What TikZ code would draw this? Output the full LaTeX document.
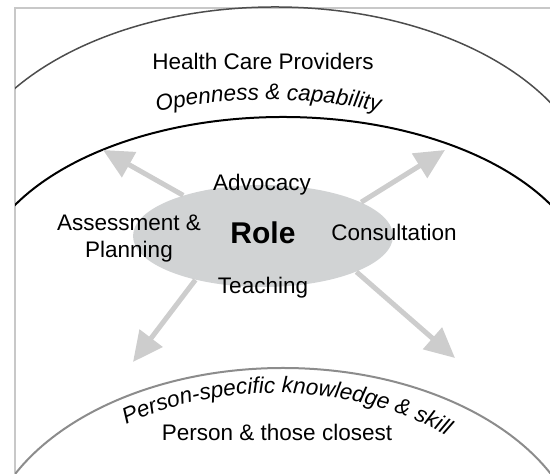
\documentclass[tikz,border=0pt]{standalone}
\usepackage{fontspec}
\setmainfont{Liberation Sans}
\usetikzlibrary{arrows.meta,shapes.geometric,decorations.text}

\definecolor{framegray}{HTML}{C8C8C8}
\definecolor{outergray}{HTML}{4D4D4D}
\definecolor{innergray}{HTML}{8C8C8C}
\definecolor{rolegray}{HTML}{D1D3D4}
\definecolor{arrowgray}{HTML}{CDCDCD}

\newcommand{\txtsize}{\fontsize{11.25}{13.5}\selectfont}
\newcommand{\ringfont}{\fontsize{11.25}{13.5}\selectfont\itshape}

\begin{document}
\begin{tikzpicture}[x=0.5pt,y=0.5pt]
	\tikzset{
		lbl/.style={font=\txtsize, inner sep=0pt, anchor=base},
		ring/.style={line width=1pt},
		rolearrow/.style={line width=2.5pt, draw=arrowgray, -{Triangle[length=15pt,width=14pt]}}
	}
	\useasboundingbox (0,0) rectangle (550,474);
	
	% frame
	\draw[line width=1pt, framegray] (15,0) -- (15,466) -- (550,466);
	
	% upper halves of the rings, cut off by the frame
	\begin{scope}
		\clip (15,0) rectangle (550,474);
		\draw[ring, line width=0.75pt, outergray] (-45,272) arc[start angle=180, end angle=0, x radius=320, y radius=195];
		\draw[ring, black] (-24,185) arc[start angle=180, end angle=0, x radius=307, y radius=172];
		\draw[ring, innergray] (-17,-87) arc[start angle=180, end angle=0, x radius=300, y radius=193];
	\end{scope}
	
	% role in the middle
	\node[ellipse, fill=rolegray, minimum width=130pt, minimum height=51pt, inner sep=0pt,
		font=\bfseries\fontsize{15}{18}\selectfont, text depth=3.7pt] (role) at (263,238) {Role};
	
	\coordinate (nw) at (103,324);
	\coordinate (ne) at (445,324);
	\coordinate (sw) at (133,112);
	\coordinate (se) at (455,116);
	\draw[rolearrow] (role.153) -- (nw);
	\draw[rolearrow] (role.19) -- (ne);
	\draw[rolearrow] (role.213) -- (sw);
	\draw[rolearrow] (role.339) -- (se);
	
	\node[lbl] (hcp) at (263,404) {Health Care Providers};
	\node[lbl] (adv) at (262,283) {Advocacy};
	\node[lbl, anchor=center, align=center] (assess) at (129,235) {Assessment \&\\Planning};
	\node[lbl] (consult) at (394,233) {Consultation};
	\node[lbl] (teach) at (263,180) {Teaching};
	\node[lbl] (person) at (277,33) {Person \& those closest};
	
	% curved labels
	\path[decorate, decoration={text along path, text align=left,
		text={|\ringfont|Openness {\&} capability}}]
		(268,185) ++(110:324 and 189) arc[start angle=110, end angle=50, x radius=324, y radius=189];
	\path[decorate, decoration={text along path, text align=left,
		text={|\ringfont|Person-specific knowledge {\&} skill}}]
		(276,-87) ++(126:255 and 168) arc[start angle=126, end angle=15, x radius=255, y radius=168];
\end{tikzpicture}
\end{document}
